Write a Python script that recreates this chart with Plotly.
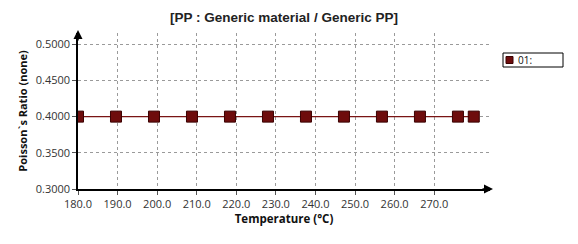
import plotly.graph_objects as go

# Data
temperature = [180.0, 189.6, 199.2, 208.8, 218.4, 228.0, 237.6, 247.2, 256.8, 266.4, 276.0, 280.0]
poisson = [0.4, 0.4, 0.4, 0.4, 0.4, 0.4, 0.4, 0.4, 0.4, 0.4, 0.4, 0.4]
series_name = "01:"
x_ticks = [180, 190, 200, 210, 220, 230, 240, 250, 260, 270]
x_tick_labels = ["180.0", "190.0", "200.0", "210.0", "220.0", "230.0", "240.0", "250.0", "260.0", "270.0"]
y_ticks = [0.30, 0.35, 0.40, 0.45, 0.50]
y_tick_labels = ["0.3000", "0.3500", "0.4000", "0.4500", "0.5000"]

dark_red = "#6e0c0c"
font_family = "Open Sans, Noto Sans, sans-serif"
W, H = 578, 244

fig = go.Figure()
fig.add_trace(go.Scatter(
    x=temperature, y=poisson, mode="lines+markers", name=series_name,
    line=dict(color="#7a1414", width=1.2),
    marker=dict(symbol="square", size=11, color=dark_red, line=dict(color="#3a0202", width=1)),
    showlegend=False, hoverinfo="skip",
))

axis_common = dict(
    showgrid=True, gridcolor="#9a9a9a", gridwidth=1, griddash="3px,3px",
    zeroline=False, showline=True, linecolor="black", linewidth=1.5,
    ticks="outside", ticklen=4, tickcolor="#555555",
    tickfont=dict(family=font_family, size=11, color="#333333"),
)

fig.update_layout(
    width=W, height=H,
    margin=dict(l=78, r=88, t=33, b=55),
    paper_bgcolor="white", plot_bgcolor="white",
    title=dict(text="[PP : Generic material / Generic PP]", x=0.5, xref="paper",
               y=1 - 17/H, yanchor="middle", xanchor="center",
               font=dict(family="Liberation Sans, Arial, sans-serif", size=13.5, color="#222222", weight="bold")),
    xaxis=dict(range=[180, 284.1], tickvals=x_ticks, ticktext=x_tick_labels,
               title=dict(text="Temperature (°C)", standoff=4,
                          font=dict(family=font_family, size=11.5, color="#111111", weight="bold")),
               **axis_common),
    yaxis=dict(range=[0.3, 0.5155], tickvals=y_ticks, ticktext=y_tick_labels,
               title=dict(text="Poisson`s Ratio (none)", standoff=6,
                          font=dict(family=font_family, size=11, color="#111111", weight="bold")),
               **axis_common),
    showlegend=False,
)

# Legend box
fig.add_shape(type="rect", xref="paper", yref="paper",
              x0=(503-78)/(490-78), x1=(563-78)/(490-78),
              y0=(189-53)/(189-33), y1=(189-67)/(189-33),
              line=dict(color="black", width=1), fillcolor="white")
fig.add_shape(type="rect", xref="paper", yref="paper",
              x0=(506-78)/(490-78), x1=(513-78)/(490-78),
              y0=(189-56.5)/(189-33), y1=(189-63.5)/(189-33),
              line=dict(color="#3a0202", width=1), fillcolor=dark_red)
fig.add_annotation(x=(516-78)/(490-78), y=(189-60)/(189-33), xref="paper", yref="paper",
                   text=series_name, showarrow=False, xanchor="left", yanchor="middle",
                   font=dict(family=font_family, size=10, color="#111111"))

# Axis arrows
fig.add_annotation(x=1, y=0, xref="paper", yref="paper", ax=-12, ay=0, axref="pixel", ayref="pixel",
                   showarrow=True, arrowhead=2, arrowsize=1.2, arrowwidth=1.5, arrowcolor="black", text="",
                   xshift=3)
fig.add_annotation(x=0, y=1, xref="paper", yref="paper", ax=0, ay=12, axref="pixel", ayref="pixel",
                   showarrow=True, arrowhead=2, arrowsize=1.2, arrowwidth=1.5, arrowcolor="black", text="",
                   yshift=3)

fig.write_html("out.html")
